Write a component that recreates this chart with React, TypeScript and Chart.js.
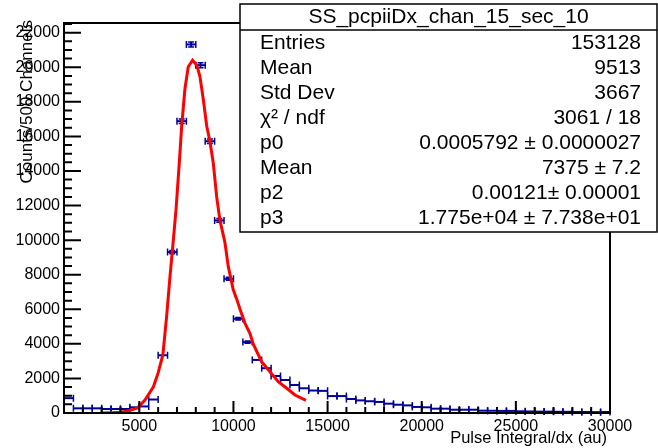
import React, { useEffect, useRef } from "react";
import { Chart, registerables } from "chart.js";

Chart.register(...registerables);

// ---------------- data ----------------
const binCenters = [
  1250, 1750, 2250, 2750, 3250, 3750, 4250, 4750, 5250, 5750,
  6250, 6750, 7250, 7750, 8250, 8750, 9250, 9750, 10250, 10750,
  11250, 11750, 12250, 12750, 13250, 13750, 14250, 14750, 15250, 15750,
  16250, 16750, 17250, 17750, 18250, 18750, 19250, 19750, 20250, 20750,
  21250, 21750, 22250, 22750, 23250, 23750, 24250, 24750, 25250, 25750,
  26250, 26750, 27250, 27750, 28250, 28750, 29250, 29750,
];
const binCounts = [
  860, 270, 270, 270, 230, 230, 230, 330, 380, 780,
  3340, 9310, 16880, 21320, 20120, 15720, 11140, 7760, 5450, 4100,
  3070, 2590, 2140, 1910, 1620, 1430, 1300, 1280, 980, 980,
  810, 730, 680, 640, 540, 480, 440, 350, 330, 250,
  250, 190, 190, 190, 135, 130, 120, 120, 100, 90,
  80, 80, 70, 70, 60, 60, 50, 60,
];
const binWidth = 500;

const fitX = [
  3000, 3500, 4000, 4500, 4900, 5300, 5750, 6000, 6250, 6450,
  6630, 6750, 6950, 7125, 7250, 7425, 7600, 7830, 8050, 8220,
  8400, 8580, 8750, 8930, 9110, 9285, 9550, 9725, 9990, 10170,
  10350, 10610, 10880, 11050, 11500, 11940, 12380, 12830, 13270, 13850,
];
const fitY = [
  0, 20, 50, 150, 290, 750, 1520, 2320, 3360, 5580,
  7900, 9300, 11760, 14480, 16590, 18770, 20030, 20410, 20120, 19480,
  18130, 16600, 15720, 14450, 12500, 11140, 9850, 8480, 7130, 6600,
  6000, 5200, 4600, 4000, 2960, 2390, 1810, 1430, 1040, 730,
];

const xTickValues = [5000, 10000, 15000, 20000, 25000, 30000];
const yTickValues = [0, 2000, 4000, 6000, 8000, 10000, 12000, 14000, 16000, 18000, 20000, 22000];
const xMin = 1000;
const xMax = 30000;
const yMin = 0;
const yMax = 22560;
const xMinorStep = 1000;
const yMinorStep = 500;

const histTitle = "SS_pcpiiDx_chan_15_sec_10";
const statLabels = ["Entries", "Mean", "Std Dev", "χ² / ndf", "p0", "Mean", "p2", "p3"];
const statValues = [
  "153128",
  "9513",
  "3667",
  "3061 / 18",
  "0.0005792 ± 0.0000027",
  "7375 ± 7.2",
  "0.00121± 0.00001",
  "1.775e+04 ± 7.738e+01",
];
const xTitle = "Pulse Integral/dx (au)";
const yTitle = "Counts/500 Channels";

// ---------------- styles ----------------
const FONT = "'Liberation Sans', Arial, Helvetica, sans-serif";
const HIST_COLOR = "#000099";
const FIT_COLOR = "#ff0000";

const rootPlugin = {
  id: "rootStyle",
  beforeDatasetsDraw(chart: any) {
    const { ctx } = chart;
    const x = chart.scales.x;
    const y = chart.scales.y;
    const ds = chart.data.datasets[1].data as { x: number; y: number }[];
    ctx.save();
    ctx.strokeStyle = HIST_COLOR;
    ds.forEach((p) => {
      const xl = x.getPixelForValue(p.x - binWidth / 2);
      const xr = x.getPixelForValue(p.x + binWidth / 2);
      const xc = x.getPixelForValue(p.x);
      const py = y.getPixelForValue(p.y);
      ctx.lineWidth = 2;
      ctx.beginPath();
      ctx.moveTo(xl, py);
      ctx.lineTo(xr, py);
      ctx.stroke();
      ctx.lineWidth = 1.5;
      ctx.beginPath();
      ctx.moveTo(xl, py - 3.5);
      ctx.lineTo(xl, py + 3.5);
      ctx.moveTo(xr, py - 3.5);
      ctx.lineTo(xr, py + 3.5);
      ctx.stroke();
      const err = Math.sqrt(p.y);
      const ey1 = y.getPixelForValue(p.y + err);
      const ey2 = y.getPixelForValue(p.y - err);
      if (ey2 - ey1 > 2) {
        ctx.lineWidth = 2;
        ctx.beginPath();
        ctx.moveTo(xc, ey1);
        ctx.lineTo(xc, ey2);
        ctx.stroke();
        ctx.lineWidth = 1.5;
        ctx.beginPath();
        ctx.moveTo(xc - 3, ey1);
        ctx.lineTo(xc + 3, ey1);
        ctx.moveTo(xc - 3, ey2);
        ctx.lineTo(xc + 3, ey2);
        ctx.stroke();
      }
    });
    ctx.restore();
  },
  afterDatasetsDraw(chart: any) {
    const { ctx, chartArea } = chart;
    const { left, right, top, bottom } = chartArea;
    const x = chart.scales.x;
    const y = chart.scales.y;
    ctx.save();
    ctx.strokeStyle = "#000";
    ctx.lineWidth = 2;
    ctx.strokeRect(left, top, right - left, bottom - top);
    // y ticks (inward)
    ctx.lineWidth = 2;
    ctx.beginPath();
    for (let v = yMin; v <= yMax; v += yMinorStep) {
      const py = y.getPixelForValue(v);
      const len = v % 2000 === 0 ? 17 : 8;
      ctx.moveTo(left, py);
      ctx.lineTo(left + len, py);
    }
    ctx.stroke();
    // x ticks (inward)
    ctx.beginPath();
    for (let v = 2000; v <= xMax; v += xMinorStep) {
      const px = x.getPixelForValue(v);
      const len = v % 5000 === 0 ? 12 : 6;
      ctx.moveTo(px, bottom);
      ctx.lineTo(px, bottom - len);
    }
    ctx.stroke();
    ctx.restore();
  },
  afterDraw(chart: any) {
    const { ctx } = chart;
    ctx.save();
    // axis titles
    ctx.fillStyle = "#000";
    ctx.font = `17px ${FONT}`;
    ctx.save();
    ctx.translate(27, 20);
    ctx.rotate(-Math.PI / 2);
    ctx.textAlign = "right";
    ctx.textBaseline = "middle";
    ctx.fillText(yTitle, 0, 0);
    ctx.restore();
    ctx.font = `16.5px ${FONT}`;
    ctx.textAlign = "right";
    ctx.textBaseline = "middle";
    ctx.fillText(xTitle, 607, 438);

    // stats box
    const bx = 240, by = 4, bw = 417, bh = 228;
    ctx.fillStyle = "#fff";
    ctx.fillRect(bx, by, bw, bh);
    ctx.strokeStyle = "#000";
    ctx.lineWidth = 1.5;
    ctx.strokeRect(bx, by, bw, bh);
    ctx.beginPath();
    ctx.moveTo(bx, 30);
    ctx.lineTo(bx + bw, 30);
    ctx.stroke();
    ctx.fillStyle = "#000";
    ctx.font = `21px ${FONT}`;
    ctx.textAlign = "center";
    ctx.textBaseline = "middle";
    ctx.fillText(histTitle, bx + bw / 2, 17);
    statLabels.forEach((lab, i) => {
      const ty = 43 + i * 25.1;
      ctx.textAlign = "left";
      ctx.fillText(lab, 260, ty);
      ctx.textAlign = "right";
      ctx.fillText(statValues[i], 641, ty);
    });
    ctx.restore();
  },
};

export default function App() {
  const canvasRef = useRef<HTMLCanvasElement | null>(null);

  useEffect(() => {
    const canvas = canvasRef.current;
    if (!canvas) return;
    Chart.defaults.font.family = FONT;
    const chart = new Chart(canvas, {
      type: "line",
      data: {
        datasets: [
          {
            label: "fit",
            data: fitX.map((v, i) => ({ x: v, y: fitY[i] })),
            borderColor: FIT_COLOR,
            borderWidth: 3,
            pointRadius: 0,
            tension: 0,
            fill: false,
          },
          {
            label: "hist",
            data: binCenters.map((v, i) => ({ x: v, y: binCounts[i] })),
            showLine: false,
            pointRadius: 0,
            borderColor: HIST_COLOR,
          },
        ],
      },
      options: {
        responsive: false,
        animation: false,
        devicePixelRatio: 1,
        layout: { padding: { left: 0, right: 48, top: 23, bottom: 0 } },
        plugins: {
          legend: { display: false },
          tooltip: { enabled: false },
          title: { display: false },
        },
        scales: {
          x: {
            type: "linear",
            min: xMin,
            max: xMax,
            afterFit: (s: any) => {
              s.height = 35;
            },
            afterBuildTicks: (s: any) => {
              s.ticks = xTickValues.map((v) => ({ value: v }));
            },
            grid: { display: false, drawTicks: false },
            border: { display: false },
            ticks: {
              font: { size: 16, family: FONT },
              color: "#000",
              padding: 4,
              maxRotation: 0,
              autoSkip: false,
              callback: (v: any) => String(v),
            },
          },
          y: {
            type: "linear",
            min: yMin,
            max: yMax,
            afterFit: (s: any) => {
              s.width = 64;
            },
            afterBuildTicks: (s: any) => {
              s.ticks = yTickValues.map((v) => ({ value: v }));
            },
            grid: { display: false, drawTicks: false },
            border: { display: false },
            ticks: {
              font: { size: 16, family: FONT },
              color: "#000",
              padding: 4,
              autoSkip: false,
              callback: (v: any) => String(v),
            },
          },
        },
      },
      plugins: [rootPlugin],
    } as any);
    return () => chart.destroy();
  }, []);

  return (
    <div style={{ position: "absolute", left: 0, top: 0, width: 658, height: 448, background: "#fff" }}>
      <canvas ref={canvasRef} width={658} height={448} style={{ display: "block" }} />
    </div>
  );
}
